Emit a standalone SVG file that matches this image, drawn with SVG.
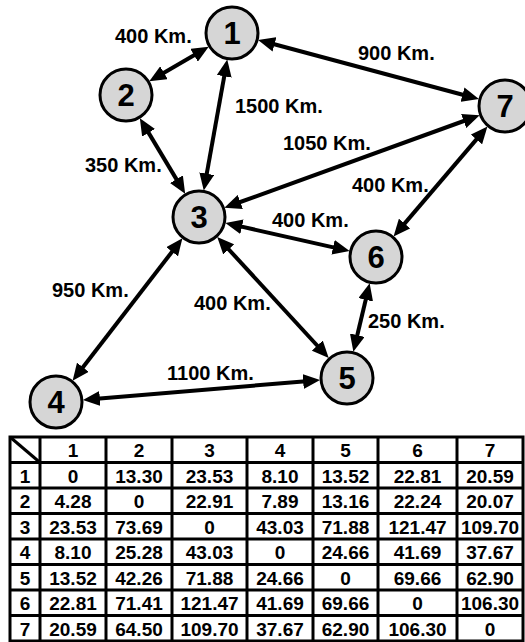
<svg xmlns="http://www.w3.org/2000/svg" width="525" height="642" viewBox="0 0 525 642">
  <style>
    .node circle { fill: #d6d6d6; stroke: #000; stroke-width: 3; }
    .node text { font-family: "Liberation Sans", Arial, sans-serif; font-weight: bold; font-size: 31px; text-anchor: middle; fill: #000; }
    .edge { stroke: #000; stroke-width: 4; fill: none; marker-start: url(#head); marker-end: url(#head); }
    .lbl { font-family: "Liberation Sans", Arial, sans-serif; font-weight: bold; font-size: 20px; fill: #000; }
    .grid line, .grid rect { stroke: #000; stroke-width: 3; fill: none; }
    .cell { font-family: "Liberation Sans", Arial, sans-serif; font-weight: bold; font-size: 19px; text-anchor: middle; fill: #000; }
  </style>
  <defs>
    <marker id="head" markerUnits="userSpaceOnUse" markerWidth="17" markerHeight="15" refX="6" refY="7.5" orient="auto-start-reverse">
      <path d="M0,0 L17,7.5 L0,15 z" fill="#000"/>
    </marker>
  </defs>
  <rect width="525" height="642" fill="#fff"/>

  <!-- connectors -->
  <g id="connectors">
    <line class="edge" x1="199.2" y1="52.2" x2="158.8" y2="75.8"/>
    <line class="edge" x1="225.3" y1="70.4" x2="205.7" y2="179.6"/>
    <line class="edge" x1="268.7" y1="42.8" x2="468.3" y2="96.2"/>
    <line class="edge" x1="145.5" y1="127.6" x2="179.5" y2="184.4"/>
    <line class="edge" x1="234.7" y1="204" x2="469.3" y2="119"/>
    <line class="edge" x1="236.1" y1="225.4" x2="338.9" y2="248.6"/>
    <line class="edge" x1="224.7" y1="245" x2="321.3" y2="350"/>
    <line class="edge" x1="175.7" y1="247" x2="79.3" y2="372"/>
    <line class="edge" x1="480.3" y1="134.9" x2="400.7" y2="228.1"/>
    <line class="edge" x1="367.1" y1="294" x2="355.9" y2="341"/>
    <line class="edge" x1="93.9" y1="399" x2="309.1" y2="381"/>
  </g>

  <!-- distance labels -->
  <g id="labels">
    <text class="lbl" x="115" y="43">400 Km.</text>
    <text class="lbl" x="235" y="113">1500 Km.</text>
    <text class="lbl" x="358" y="60">900 Km.</text>
    <text class="lbl" x="85" y="172">350 Km.</text>
    <text class="lbl" x="283" y="150">1050 Km.</text>
    <text class="lbl" x="352" y="192">400 Km.</text>
    <text class="lbl" x="272" y="227">400 Km.</text>
    <text class="lbl" x="52" y="297">950 Km.</text>
    <text class="lbl" x="194" y="310">400 Km.</text>
    <text class="lbl" x="368" y="328">250 Km.</text>
    <text class="lbl" x="167" y="380">1100 Km.</text>
  </g>

  <!-- nodes -->
  <g id="node1" class="node"><circle cx="232" cy="33" r="26"/><text x="232" y="44">1</text></g>
  <g id="node2" class="node"><circle cx="126" cy="95" r="26"/><text x="126" y="106">2</text></g>
  <g id="node3" class="node"><circle cx="199" cy="217" r="26"/><text x="199" y="228">3</text></g>
  <g id="node4" class="node"><circle cx="56" cy="402" r="26"/><text x="56" y="413">4</text></g>
  <g id="node5" class="node"><circle cx="347" cy="378" r="26"/><text x="347" y="389">5</text></g>
  <g id="node6" class="node"><circle cx="376" cy="257" r="26"/><text x="376" y="268">6</text></g>
  <g id="node7" class="node"><circle cx="505" cy="106" r="26"/><text x="505" y="117">7</text></g>

  <!-- cost table -->
  <g id="table">
    <g class="grid">
      <rect x="10" y="437" width="513" height="204"/>
      <line x1="40" y1="437" x2="40" y2="641"/>
      <line x1="106" y1="437" x2="106" y2="641"/>
      <line x1="172" y1="437" x2="172" y2="641"/>
      <line x1="247" y1="437" x2="247" y2="641"/>
      <line x1="313" y1="437" x2="313" y2="641"/>
      <line x1="378" y1="437" x2="378" y2="641"/>
      <line x1="457" y1="437" x2="457" y2="641"/>
      <line x1="10" y1="462.5" x2="523" y2="462.5"/>
      <line x1="10" y1="488" x2="523" y2="488"/>
      <line x1="10" y1="513.5" x2="523" y2="513.5"/>
      <line x1="10" y1="539" x2="523" y2="539"/>
      <line x1="10" y1="564.5" x2="523" y2="564.5"/>
      <line x1="10" y1="590" x2="523" y2="590"/>
      <line x1="10" y1="615.5" x2="523" y2="615.5"/>
      <line x1="10" y1="437" x2="40" y2="462.5" stroke-width="2"/>
    </g>
    <g class="cell">
      <text x="73" y="457">1</text><text x="139" y="457">2</text><text x="209.5" y="457">3</text><text x="280" y="457">4</text><text x="345.5" y="457">5</text><text x="417.5" y="457">6</text><text x="490" y="457">7</text>

      <text x="25" y="482.5">1</text><text x="73" y="482.5">0</text><text x="139" y="482.5">13.30</text><text x="209.5" y="482.5">23.53</text><text x="280" y="482.5">8.10</text><text x="345.5" y="482.5">13.52</text><text x="417.5" y="482.5">22.81</text><text x="490" y="482.5">20.59</text>

      <text x="25" y="508">2</text><text x="73" y="508">4.28</text><text x="139" y="508">0</text><text x="209.5" y="508">22.91</text><text x="280" y="508">7.89</text><text x="345.5" y="508">13.16</text><text x="417.5" y="508">22.24</text><text x="490" y="508">20.07</text>

      <text x="25" y="533.5">3</text><text x="73" y="533.5">23.53</text><text x="139" y="533.5">73.69</text><text x="209.5" y="533.5">0</text><text x="280" y="533.5">43.03</text><text x="345.5" y="533.5">71.88</text><text x="417.5" y="533.5">121.47</text><text x="490" y="533.5">109.70</text>

      <text x="25" y="559">4</text><text x="73" y="559">8.10</text><text x="139" y="559">25.28</text><text x="209.5" y="559">43.03</text><text x="280" y="559">0</text><text x="345.5" y="559">24.66</text><text x="417.5" y="559">41.69</text><text x="490" y="559">37.67</text>

      <text x="25" y="584.5">5</text><text x="73" y="584.5">13.52</text><text x="139" y="584.5">42.26</text><text x="209.5" y="584.5">71.88</text><text x="280" y="584.5">24.66</text><text x="345.5" y="584.5">0</text><text x="417.5" y="584.5">69.66</text><text x="490" y="584.5">62.90</text>

      <text x="25" y="610">6</text><text x="73" y="610">22.81</text><text x="139" y="610">71.41</text><text x="209.5" y="610">121.47</text><text x="280" y="610">41.69</text><text x="345.5" y="610">69.66</text><text x="417.5" y="610">0</text><text x="490" y="610">106.30</text>

      <text x="25" y="635.5">7</text><text x="73" y="635.5">20.59</text><text x="139" y="635.5">64.50</text><text x="209.5" y="635.5">109.70</text><text x="280" y="635.5">37.67</text><text x="345.5" y="635.5">62.90</text><text x="417.5" y="635.5">106.30</text><text x="490" y="635.5">0</text>
    </g>
  </g>
</svg>
